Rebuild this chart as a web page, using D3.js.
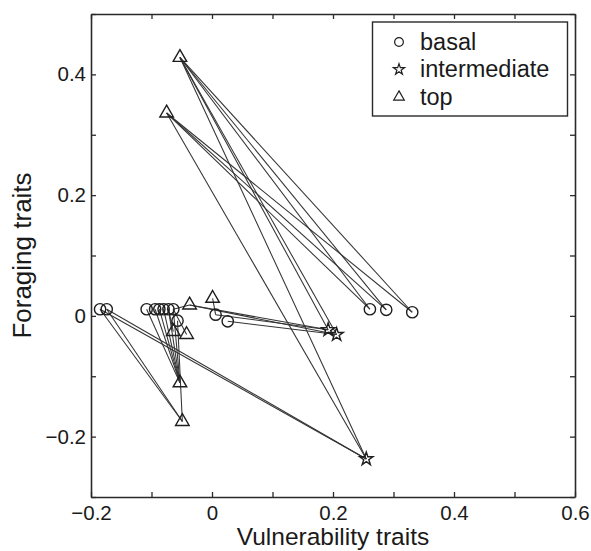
<!DOCTYPE html>
<html><head><meta charset="utf-8">
<script src="https://cdn.jsdelivr.net/npm/d3@7"></script>
<style>
html,body{margin:0;padding:0;background:#fff;}
svg{display:block;font-family:"Liberation Sans",Arial,Helvetica,sans-serif;}
</style></head>
<body><svg id="chart" width="591" height="551"></svg>
<script>
// ---- data ----
const basalX = [-0.185,-0.174,-0.108,-0.094,-0.087,-0.080,-0.072,-0.064,-0.057,0.006,0.026,0.261,0.288,0.331];
const basalY = [0.011,0.011,0.011,0.011,0.011,0.011,0.011,0.011,-0.008,0.002,-0.009,0.011,0.010,0.006];
const intermediateX = [0.192,0.206,0.255];
const intermediateY = [-0.023,-0.031,-0.237];
const topX = [-0.053,-0.075,-0.037,0.001,-0.064,-0.042,-0.053,-0.049];
const topY = [0.428,0.336,0.018,0.029,-0.026,-0.031,-0.111,-0.175];
// links: [from, to] node ids ("b" basal, "i" intermediate, "t" top)
const linkFrom = ["t0","t0","t0","t1","t1","t1","t0","t0","t0","t1","b0","b1","b0","b1",
  "b2","b3","b4","b5","b6","b7","b6","b7","b8","t2","t2","b9","b10","b7","t3"];
const linkTo   = ["b11","b12","b13","b11","b12","b13","i0","i1","i2","i2","i2","i2","t7","t7",
  "t6","t6","t6","t6","t6","t6","t4","t5","t7","i0","i1","i0","i1","t2","b9"];
const xTicks = [-0.2,-0.1,0,0.1,0.2,0.3,0.4,0.5,0.6];
const yTicks = [-0.3,-0.2,-0.1,0,0.1,0.2,0.3,0.4,0.5];
const legendLabels = ["basal","intermediate","top"];
const xTitle = "Vulnerability traits";
const yTitle = "Foraging traits";

// ---- drawing ----
const svg = d3.select("#chart");
const L = 91, R = 575, T = 14, B = 497;
const x = d3.scaleLinear().domain([-0.2,0.6]).range([L,R]);
const y = d3.scaleLinear().domain([-0.3,0.5]).range([B,T]);
const axisColor = "#2a2a2a";
const fmt = v => {
  const r = Math.round(v*10);
  if (r % 2 !== 0) return "";
  return d3.format("")(Math.round(v*10)/10);
};

function styleAxis(g){
  g.select(".domain").attr("stroke",axisColor).attr("stroke-width",1.6);
  g.selectAll(".tick line").attr("stroke",axisColor).attr("stroke-width",1.3);
  g.selectAll(".tick text").attr("fill","#1a1a1a").attr("font-size",20.5);
}
svg.append("g").attr("transform",`translate(0,${B})`)
  .call(d3.axisBottom(x).tickValues(xTicks).tickSizeInner(-5).tickSizeOuter(0).tickPadding(8).tickFormat(fmt))
  .call(styleAxis);
svg.append("g").attr("transform",`translate(0,${T})`)
  .call(d3.axisTop(x).tickValues(xTicks).tickSizeInner(-5).tickSizeOuter(0).tickFormat(""))
  .call(styleAxis);
svg.append("g").attr("transform",`translate(${L},0)`)
  .call(d3.axisLeft(y).tickValues(yTicks).tickSizeInner(-5).tickSizeOuter(0).tickPadding(5).tickFormat(fmt))
  .call(styleAxis);
svg.append("g").attr("transform",`translate(${R},0)`)
  .call(d3.axisRight(y).tickValues(yTicks).tickSizeInner(-5).tickSizeOuter(0).tickFormat(""))
  .call(styleAxis);

// nodes
const nodes = {};
basalX.forEach((v,i)=>nodes["b"+i]={x:v,y:basalY[i],type:"basal"});
intermediateX.forEach((v,i)=>nodes["i"+i]={x:v,y:intermediateY[i],type:"intermediate"});
topX.forEach((v,i)=>nodes["t"+i]={x:v,y:topY[i],type:"top"});

const plot = svg.append("g");
plot.selectAll("line.link").data(linkFrom.map((f,i)=>[nodes[f],nodes[linkTo[i]]]))
  .join("line").attr("class","link")
  .attr("x1",d=>x(d[0].x)).attr("y1",d=>y(d[0].y))
  .attr("x2",d=>x(d[1].x)).attr("y2",d=>y(d[1].y))
  .attr("stroke","#333").attr("stroke-width",1.05);

const symbolOf = {basal:d3.symbolCircle, intermediate:d3.symbolStar, top:d3.symbolTriangle};
const sizeOf = {basal:100, intermediate:55, top:80};
plot.selectAll("path.node").data(Object.values(nodes)).join("path").attr("class","node")
  .attr("transform",d=>`translate(${x(d.x)},${y(d.y)})`)
  .attr("d",d=>d3.symbol(symbolOf[d.type],sizeOf[d.type])())
  .attr("fill","none").attr("stroke","#1e1e1e").attr("stroke-width",1.4);

// titles
svg.append("text").attr("x",(L+R)/2).attr("y",545).attr("text-anchor","middle")
  .attr("font-size",24.5).attr("fill","#1a1a1a").text(xTitle);
svg.append("text").attr("transform",`translate(31,${(T+B)/2}) rotate(-90)`).attr("text-anchor","middle")
  .attr("font-size",26).attr("fill","#1a1a1a").text(yTitle);

// legend
const lg = svg.append("g");
lg.append("rect").attr("x",372.5).attr("y",22).attr("width",195).attr("height",94)
  .attr("fill","#fff").attr("stroke",axisColor).attr("stroke-width",1.4);
const legSizes = {basal:60, intermediate:38, top:48};
["basal","intermediate","top"].forEach((t,i)=>{
  const cy = 42 + i*27.5;
  lg.append("path").attr("transform",`translate(399,${cy})`)
    .attr("d",d3.symbol(symbolOf[t],legSizes[t])())
    .attr("fill","none").attr("stroke","#1e1e1e").attr("stroke-width",1.2);
  lg.append("text").attr("x",420).attr("y",cy+7.5).attr("font-size",23.5).attr("fill","#1a1a1a")
    .text(legendLabels[i]);
});
</script></body></html>
